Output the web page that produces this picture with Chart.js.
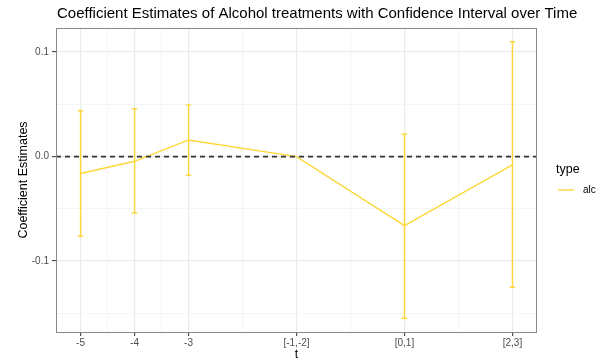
<!DOCTYPE html>
<html>
<head>
<meta charset="utf-8">
<script src="https://cdn.jsdelivr.net/npm/chart.js@4.4.1/dist/chart.umd.min.js"></script>
<style>
  html, body { margin: 0; padding: 0; background: #fff; }
  canvas { display: block; }
</style>
</head>
<body>
<canvas id="myChart" width="605" height="362"></canvas>
<script>
// data
const periods = [-5, -4, -3, -1, 1, 3];
const periodLabels = ["-5", "-4", "-3", "[-1,-2]", "[0,1]", "[2,3]"];
const estimates = [-0.0162, -0.0045, 0.0159, 0, -0.066, -0.0079];
const ciLow = [-0.0762, -0.054, -0.0178, 0, -0.1546, -0.125];
const ciHigh = [0.0438, 0.0457, 0.0495, 0, 0.0216, 0.1098];
const xMinor = [-4.5, -3.5, -2, 0, 2];
const yMajor = [-0.1, 0, 0.1];
const yMinor = [-0.15, -0.05, 0.05];
const seriesName = "alc";

const yellow = "#FDD73A";
const FONT = "'Liberation Sans', Arial, sans-serif";

const isMajorX = (v) => periods.includes(v);
const isMajorY = (v) => yMajor.some((m) => Math.abs(m - v) < 1e-9);

const panelPlugin = {
  id: "panel",
  beforeDatasetsDraw(chart) {
    const { ctx, scales } = chart;
    const x = scales.x, y = scales.y;
    ctx.save();
    ctx.strokeStyle = yellow;
    ctx.lineWidth = 1.4;
    for (let i = 0; i < periods.length; i++) {
      if (ciLow[i] === ciHigh[i]) continue;
      const px = x.getPixelForValue(periods[i]);
      const x0 = x.getPixelForValue(periods[i] - 0.05);
      const x1 = x.getPixelForValue(periods[i] + 0.05);
      const yl = y.getPixelForValue(ciLow[i]);
      const yh = y.getPixelForValue(ciHigh[i]);
      ctx.beginPath();
      ctx.moveTo(px, yl); ctx.lineTo(px, yh);
      ctx.moveTo(x0, yl); ctx.lineTo(x1, yl);
      ctx.moveTo(x0, yh); ctx.lineTo(x1, yh);
      ctx.stroke();
    }
    ctx.restore();
  },
  afterDatasetsDraw(chart) {
    const { ctx, chartArea: a, scales } = chart;
    const y0 = scales.y.getPixelForValue(0);
    ctx.save();
    // zero reference line
    ctx.strokeStyle = "#333";
    ctx.lineWidth = 1.6;
    ctx.setLineDash([5, 4]);
    ctx.beginPath();
    ctx.moveTo(a.left, y0); ctx.lineTo(a.right, y0);
    ctx.stroke();
    ctx.setLineDash([]);
    // panel border
    ctx.strokeStyle = "#888";
    ctx.lineWidth = 1;
    ctx.strokeRect(a.left + 0.5, a.top + 0.5, a.right - a.left - 1, a.bottom - a.top);
    // title
    ctx.fillStyle = "#000";
    ctx.font = "15px " + FONT;
    ctx.textBaseline = "middle";
    ctx.textAlign = "left";
    ctx.fillText("Coefficient Estimates of Alcohol treatments with Confidence Interval over Time", a.left + 1, 14);
    // legend
    const ds = chart.data.datasets[0];
    ctx.font = "12.5px " + FONT;
    ctx.fillText("type", 556, 170);
    ctx.strokeStyle = ds.borderColor;
    ctx.lineWidth = 1.4;
    ctx.beginPath();
    ctx.moveTo(558, 190); ctx.lineTo(574, 190);
    ctx.stroke();
    ctx.font = "10px " + FONT;
    ctx.fillText(ds.label, 583, 190);
    ctx.restore();
  },
};

new Chart("myChart", {
  type: "line",
  data: {
    datasets: [
      {
        label: seriesName,
        data: periods.map((p, i) => ({ x: p, y: estimates[i] })),
        borderColor: yellow,
        borderWidth: 1.4,
        pointRadius: 0,
        tension: 0,
      },
    ],
  },
  options: {
    responsive: false,
    animation: false,
    layout: { padding: { top: 28, right: 68, left: 0, bottom: 0 } },
    plugins: { legend: { display: false }, tooltip: { enabled: false } },
    scales: {
      x: {
        type: "linear",
        min: -5.455,
        max: 3.455,
        afterBuildTicks: (s) => {
          s.ticks = periods.concat(xMinor).sort((a, b) => a - b).map((v) => ({ value: v }));
        },
        afterFit: (s) => { s.height = 30; },
        ticks: {
          autoSkip: false,
          maxRotation: 0,
          padding: 1,
          color: "#4D4D4D",
          font: { family: FONT, size: 10 },
          callback: (v) => {
            const i = periods.indexOf(v);
            return i >= 0 ? periodLabels[i] : "";
          },
        },
        grid: {
          color: (c) => (isMajorX(c.tick.value) ? "#EBEBEB" : "#F3F3F3"),
          lineWidth: (c) => (isMajorX(c.tick.value) ? 1.3 : 0.8),
          tickColor: (c) => (isMajorX(c.tick.value) ? "#333" : "rgba(0,0,0,0)"),
          tickWidth: 1,
          tickLength: 4,
        },
        border: { display: false },
        title: {
          display: true,
          text: "t",
          color: "#000",
          font: { family: FONT, size: 12.5 },
          padding: { top: 0, bottom: 0 },
        },
      },
      y: {
        type: "linear",
        min: -0.1678,
        max: 0.123,
        afterBuildTicks: (s) => {
          s.ticks = yMinor.concat(yMajor).sort((a, b) => a - b).map((v) => ({ value: v }));
        },
        afterFit: (s) => { s.width = 56; },
        ticks: {
          autoSkip: false,
          padding: 3,
          color: "#4D4D4D",
          font: { family: FONT, size: 10 },
          callback: (v) => (isMajorY(v) ? v.toFixed(1) : ""),
        },
        grid: {
          color: (c) => (isMajorY(c.tick.value) ? "#EBEBEB" : "#F3F3F3"),
          lineWidth: (c) => (isMajorY(c.tick.value) ? 1.3 : 0.8),
          tickColor: (c) => (isMajorY(c.tick.value) ? "#333" : "rgba(0,0,0,0)"),
          tickWidth: 1,
          tickLength: 4,
        },
        border: { display: false },
        title: {
          display: true,
          text: "Coefficient Estimates",
          color: "#000",
          font: { family: FONT, size: 12.5 },
          padding: { top: 16, bottom: 0 },
        },
      },
    },
  },
  plugins: [panelPlugin],
});
</script>
</body>
</html>
